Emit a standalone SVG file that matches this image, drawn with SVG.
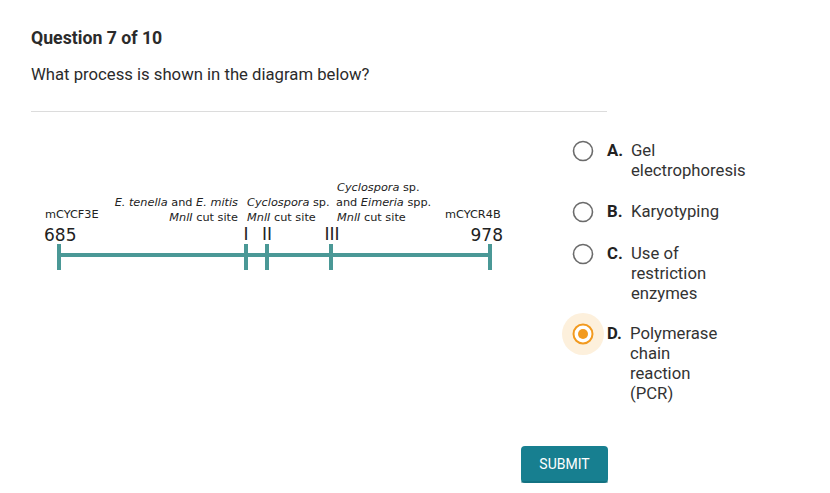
<svg xmlns="http://www.w3.org/2000/svg" width="830" height="493" viewBox="0 0 830 493">
<style>
.ui{font-family:Roboto,"Liberation Sans",sans-serif;fill:#2b2b2b}
.opt{font-family:Roboto,"Liberation Sans",sans-serif;font-size:16.7px;fill:#333}
.lbl{font-family:Roboto,"Liberation Sans",sans-serif;font-size:16.7px;font-weight:bold;fill:#222}
.dg{font-family:"DejaVu Sans","Noto Sans",sans-serif;font-size:11.3px;fill:#222}
.num{font-family:"DejaVu Sans","Noto Sans",sans-serif;font-size:17px;fill:#222}
.radio{fill:#fff;stroke:#6b6b6b;stroke-width:1.6}
.bar{stroke:#4a9896;stroke-width:4;fill:none}
</style>
<rect width="830" height="493" fill="#fff"/>
<g id="header">
<text class="ui" x="31" y="44" font-size="17.7" font-weight="bold">Question 7 of 10</text>
<text class="ui" x="31" y="80" font-size="16.7">What process is shown in the diagram below?</text>
<line x1="31" y1="111.5" x2="607" y2="111.5" stroke="#dcdcdc" stroke-width="1"/>
</g>
<g id="diagram">
<g id="bars">
<line class="bar" x1="59" y1="255" x2="490" y2="255"/>
<line class="bar" x1="59" y1="244" x2="59" y2="270"/>
<line class="bar" x1="246" y1="244" x2="246" y2="270"/>
<line class="bar" x1="267" y1="244" x2="267" y2="270"/>
<line class="bar" x1="331" y1="244" x2="331" y2="270"/>
<line class="bar" x1="490" y1="244" x2="490" y2="270"/>
</g>
<text class="dg" x="45" y="218">mCYCF3E</text>
<text class="num" x="44" y="241">685</text>
<text class="dg" x="238" y="206" text-anchor="end"><tspan font-style="italic">E. tenella</tspan> and <tspan font-style="italic">E. mitis</tspan></text>
<text class="dg" x="238" y="221" text-anchor="end"><tspan font-style="italic">MnlI</tspan> cut site</text>
<text class="dg" x="247" y="206"><tspan font-style="italic">Cyclospora</tspan> sp.</text>
<text class="dg" x="247" y="221"><tspan font-style="italic">MnlI</tspan> cut site</text>
<text class="dg" x="337" y="191"><tspan font-style="italic">Cyclospora</tspan> sp.</text>
<text class="dg" x="336" y="206">and <tspan font-style="italic">Eimeria</tspan> spp.</text>
<text class="dg" x="337" y="221"><tspan font-style="italic">MnlI</tspan> cut site</text>
<text class="dg" x="445" y="218">mCYCR4B</text>
<text class="num" x="503" y="241" text-anchor="end">978</text>
<text class="num" x="246" y="240" text-anchor="middle" font-size="15">I</text>
<text class="num" x="267" y="240" text-anchor="middle" font-size="15">II</text>
<text class="num" x="332" y="240" text-anchor="middle" font-size="15">III</text>
</g>
<g id="optA">
<circle class="radio" cx="583" cy="151" r="9.5"/>
<text class="lbl" x="607" y="156">A.</text>
<text class="opt" x="631" y="156">Gel</text>
<text class="opt" x="631" y="176">electrophoresis</text>
</g>
<g id="optB">
<circle class="radio" cx="583" cy="212" r="9.5"/>
<text class="lbl" x="607" y="217">B.</text>
<text class="opt" x="631" y="217">Karyotyping</text>
</g>
<g id="optC">
<circle class="radio" cx="583" cy="254" r="9.5"/>
<text class="lbl" x="607" y="259">C.</text>
<text class="opt" x="631" y="259">Use of</text>
<text class="opt" x="631" y="279">restriction</text>
<text class="opt" x="631" y="299">enzymes</text>
</g>
<g id="optD">
<circle cx="583" cy="334" r="21" fill="#fdf0dc"/>
<circle cx="583" cy="334" r="9.5" fill="#fff" stroke="#f29a1f" stroke-width="2"/>
<circle cx="583" cy="334" r="5" fill="#f29a1f"/>
<text class="lbl" x="607" y="339">D.</text>
<text class="opt" x="630" y="339">Polymerase</text>
<text class="opt" x="630" y="359">chain</text>
<text class="opt" x="630" y="379">reaction</text>
<text class="opt" x="630" y="399">(PCR)</text>
</g>
<g id="submit">
<rect x="521" y="446" width="87" height="37" rx="4" fill="#177f90"/>
<rect x="521" y="481" width="87" height="2" rx="1" fill="#0f6573" opacity="0.5"/>
<text x="564.5" y="469" text-anchor="middle" font-family="Roboto,'Liberation Sans',sans-serif" font-size="14" fill="#fff">SUBMIT</text>
</g>
</svg>
